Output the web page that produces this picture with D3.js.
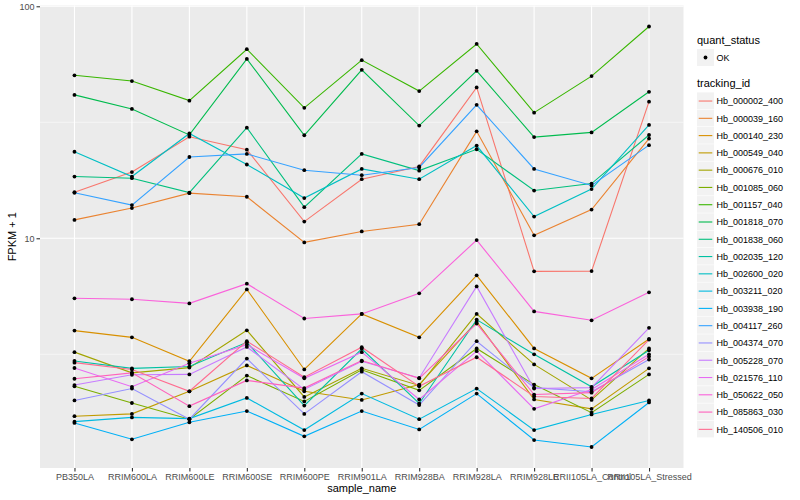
<!DOCTYPE html>
<html>
<head>
<meta charset="utf-8">
<script src="https://cdn.jsdelivr.net/npm/d3@7"></script>
<style>
  body { margin: 0; background: #fff; }
  text { font-family: "Liberation Sans", Arial, sans-serif; }
</style>
</head>
<body>
<svg id="chart" width="800" height="500"></svg>
<script>
// categories on the x axis
const samples = ["PB350LA", "RRIM600LA", "RRIM600LE", "RRIM600SE", "RRIM600PE", "RRIM901LA",
  "RRIM928BA", "RRIM928LA", "RRIM928LE", "RRII105LA_Control", "RRII105LA_Stressed"];

const trackingIds = ["Hb_000002_400", "Hb_000039_160", "Hb_000140_230", "Hb_000549_040", "Hb_000676_010",
  "Hb_001085_060", "Hb_001157_040", "Hb_001818_070", "Hb_001838_060", "Hb_002035_120",
  "Hb_002600_020", "Hb_003211_020", "Hb_003938_190", "Hb_004117_260", "Hb_004374_070",
  "Hb_005228_070", "Hb_021576_110", "Hb_050622_050", "Hb_085863_030", "Hb_140506_010"];

// ggplot default hue palette, 20 levels
const hueColors = ["#F8766D", "#EA8331", "#D89000", "#C09B00", "#A3A500", "#7CAE00", "#39B600", "#00BB4E",
  "#00BF7D", "#00C1A3", "#00BFC4", "#00BAE0", "#00B0F6", "#35A2FF", "#9590FF", "#C77CFF",
  "#E76BF3", "#FA62DB", "#FF62BC", "#FF6C90"];

// FPKM + 1 per sample, one array per gene
const hb_000002_400 = [15.8, 19.3, 27.4, 24.1, 11.8, 17.97, 20.4, 44.7, 7.2, 7.22, 38.8];
const hb_000039_160 = [12.0, 13.5, 15.65, 15.1, 9.6, 10.7, 11.5, 28.9, 10.3, 13.3, 26.9];
const hb_000140_230 = [4.00, 3.74, 2.95, 6.02, 2.72, 4.72, 3.74, 6.92, 3.35, 2.49, 3.68];
const hb_000549_040 = [1.71, 1.75, 2.19, 2.83, 2.19, 2.01, 2.34, 4.37, 2.02, 1.84, 2.75];
const hb_000676_010 = [3.23, 2.63, 2.77, 4.01, 2.07, 2.75, 2.32, 4.72, 2.86, 2.01, 3.35];
const hb_001085_060 = [2.30, 1.95, 1.66, 2.56, 1.98, 2.71, 2.21, 3.35, 2.34, 1.77, 2.59];
const hb_001157_040 = [50.4, 47.6, 39.2, 65.3, 36.5, 58.6, 43.1, 68.8, 34.8, 50.0, 81.8];
const hb_001818_070 = [41.5, 36.1, 27.9, 59.3, 27.8, 53.2, 30.6, 52.7, 27.3, 28.6, 42.8];
const hb_001838_060 = [18.45, 18.15, 15.74, 29.97, 13.62, 23.09, 19.57, 24.19, 16.06, 17.21, 27.87];
const hb_002035_120 = [2.96, 2.75, 2.80, 3.56, 1.90, 3.34, 1.94, 4.46, 3.16, 2.29, 3.29];
const hb_002600_020 = [23.6, 18.45, 28.3, 20.8, 14.9, 19.9, 17.97, 25.1, 12.4, 16.3, 30.8];
const hb_003211_020 = [1.62, 1.69, 1.67, 2.05, 1.49, 2.14, 1.66, 2.25, 1.49, 1.74, 2.00];
const hb_003938_190 = [1.60, 1.36, 1.61, 1.80, 1.40, 1.80, 1.50, 2.14, 1.35, 1.26, 1.96];
const hb_004117_260 = [15.7, 13.9, 22.4, 23.1, 19.65, 18.7, 20.2, 37.6, 19.9, 16.9, 25.2];
const hb_004374_070 = [2.00, 2.25, 1.66, 3.03, 1.75, 2.66, 1.91, 3.60, 2.27, 2.18, 3.00];
const hb_005228_070 = [2.33, 2.58, 2.59, 3.40, 2.23, 2.95, 2.50, 6.20, 2.25, 2.27, 4.11];
const hb_021576_110 = [2.76, 2.29, 2.89, 3.48, 2.49, 3.23, 2.02, 3.26, 1.84, 2.23, 3.16];
const hb_050622_050 = [5.51, 5.46, 5.24, 6.37, 4.51, 4.72, 5.79, 9.82, 4.84, 4.43, 5.85];
const hb_085863_030 = [2.48, 2.63, 1.89, 2.44, 2.26, 2.97, 2.49, 4.29, 2.12, 2.16, 3.09];
const hb_140506_010 = [2.91, 2.72, 2.19, 3.60, 2.52, 3.39, 2.30, 3.07, 2.08, 2.04, 3.66];

const seriesValues = [hb_000002_400, hb_000039_160, hb_000140_230, hb_000549_040, hb_000676_010,
  hb_001085_060, hb_001157_040, hb_001818_070, hb_001838_060, hb_002035_120,
  hb_002600_020, hb_003211_020, hb_003938_190, hb_004117_260, hb_004374_070,
  hb_005228_070, hb_021576_110, hb_050622_050, hb_085863_030, hb_140506_010];

const yMajor = [10, 100];
const yMinor = [3.162, 31.62];

// panel box
const panel = {left: 40, right: 683.5, top: 5.5, bottom: 468};

const svg = d3.select("#chart");

const series = trackingIds.map(function(id, i) {
  return {id: id, color: hueColors[i], values: seriesValues[i].map(function(v, j) {
    return {sample: samples[j], value: v};
  })};
});

const x = d3.scalePoint()
  .domain(samples)
  .range([panel.left, panel.right])
  .padding(0.6);

// log scale with ggplot's 5% expansion
const allVals = seriesValues.flat();
const lmin = Math.log10(d3.min(allVals)), lmax = Math.log10(d3.max(allVals));
const pad = (lmax - lmin) * 0.05;
const y = d3.scaleLog()
  .domain([Math.pow(10, lmin - pad), Math.pow(10, lmax + pad)])
  .range([panel.bottom, panel.top]);

// panel background + grid
svg.append("rect")
  .attr("x", panel.left).attr("y", panel.top)
  .attr("width", panel.right - panel.left).attr("height", panel.bottom - panel.top)
  .attr("fill", "#EBEBEB");

svg.append("g").selectAll("line").data(yMinor).enter().append("line")
  .attr("x1", panel.left).attr("x2", panel.right)
  .attr("y1", function(d) { return y(d); }).attr("y2", function(d) { return y(d); })
  .attr("stroke", "#fff").attr("stroke-width", 0.55);

svg.append("g").selectAll("line").data(yMajor).enter().append("line")
  .attr("x1", panel.left).attr("x2", panel.right)
  .attr("y1", function(d) { return y(d); }).attr("y2", function(d) { return y(d); })
  .attr("stroke", "#fff").attr("stroke-width", 1.1);

svg.append("g").selectAll("line").data(samples).enter().append("line")
  .attr("x1", function(d) { return x(d); }).attr("x2", function(d) { return x(d); })
  .attr("y1", panel.top).attr("y2", panel.bottom)
  .attr("stroke", "#fff").attr("stroke-width", 1.1);

// lines
const line = d3.line()
  .x(function(d) { return x(d.sample); })
  .y(function(d) { return y(d.value); });

svg.append("g").selectAll("path").data(series).enter().append("path")
  .attr("d", function(d) { return line(d.values); })
  .attr("fill", "none")
  .attr("stroke", function(d) { return d.color; })
  .attr("stroke-width", 1.1);

// points
svg.append("g").selectAll("g").data(series).enter().append("g")
  .selectAll("circle").data(function(d) { return d.values; }).enter().append("circle")
  .attr("cx", function(d) { return x(d.sample); })
  .attr("cy", function(d) { return y(d.value); })
  .attr("r", 1.9)
  .attr("fill", "#000");

// axes
const xAxis = svg.append("g")
  .attr("transform", "translate(0," + panel.bottom + ")")
  .call(d3.axisBottom(x).tickSize(3.5).tickPadding(2));
const yAxis = svg.append("g")
  .attr("transform", "translate(" + panel.left + ",0)")
  .call(d3.axisLeft(y).tickValues(yMajor).tickFormat(d3.format("d")).tickSize(3.5).tickPadding(2));

[xAxis, yAxis].forEach(function(a) {
  a.select(".domain").remove();
  a.selectAll(".tick line").attr("stroke", "#333333").attr("stroke-width", 1.1);
  a.selectAll(".tick text").attr("fill", "#4D4D4D").style("font-size", "9px")
    .style("font-family", "'Liberation Sans', Arial, sans-serif");
});

// axis titles
svg.append("text")
  .attr("x", (panel.left + panel.right) / 2).attr("y", 492)
  .attr("text-anchor", "middle").attr("fill", "#000").style("font-size", "11px")
  .text("sample_name");
svg.append("text")
  .attr("transform", "translate(16," + ((panel.top + panel.bottom) / 2) + ") rotate(-90)")
  .attr("text-anchor", "middle").attr("fill", "#000").style("font-size", "11px")
  .text("FPKM + 1");

// legend
const lg = svg.append("g").attr("transform", "translate(697,0)");
lg.append("text").attr("x", 0).attr("y", 44).style("font-size", "11px").text("quant_status");
lg.append("rect").attr("x", 0).attr("y", 49).attr("width", 17).attr("height", 17).attr("fill", "#F2F2F2");
lg.append("circle").attr("cx", 8.5).attr("cy", 57.5).attr("r", 1.9).attr("fill", "#000");
lg.append("text").attr("x", 19.5).attr("y", 60.8).style("font-size", "9px").attr("fill", "#000").text("OK");

lg.append("text").attr("x", 0).attr("y", 87).style("font-size", "11px").text("tracking_id");
const keyH = 17.28;
const keys = lg.selectAll(".key").data(series).enter().append("g")
  .attr("class", "key")
  .attr("transform", function(d, i) { return "translate(0," + (92.4 + i * keyH) + ")"; });
keys.append("rect").attr("width", 17).attr("height", keyH - 0.6).attr("fill", "#F2F2F2");
keys.append("line").attr("x1", 1.7).attr("x2", 15.3)
  .attr("y1", keyH / 2).attr("y2", keyH / 2)
  .attr("stroke", function(d) { return d.color; }).attr("stroke-width", 1.1);
keys.append("text").attr("x", 19.5).attr("y", keyH / 2 + 3.3)
  .style("font-size", "9px").attr("fill", "#000")
  .text(function(d) { return d.id; });
</script>
</body>
</html>
